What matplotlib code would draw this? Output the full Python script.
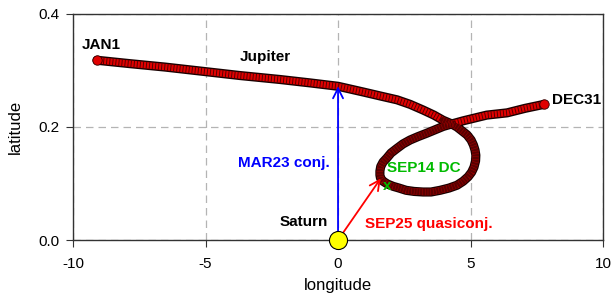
import matplotlib.pyplot as plt
import matplotlib.patheffects as pe

# Jupiter position relative to Saturn (deg)
lon = [-9.09, -7.85, -6.53, -5.02, -3.70, -2.19, -1.06, 0.00, 0.94, 1.58,
       2.23, 2.72, 3.21, 3.62, 3.96, 4.26, 4.49, 4.68, 4.87, 5.02,
       5.11, 5.17, 5.20, 5.19, 5.13, 5.04, 4.91, 4.72, 4.49, 4.19,
       3.85, 3.51, 3.21, 2.87, 2.57, 2.30, 2.08, 1.87, 1.70, 1.60,
       1.58, 1.58, 1.61, 1.70, 1.84, 2.00, 2.22, 2.45, 2.72, 3.02,
       3.35, 3.66, 3.97, 4.34, 4.73, 5.17, 5.61, 6.38, 7.06, 7.77]
lat = [0.318, 0.312, 0.306, 0.298, 0.291, 0.284, 0.278, 0.272, 0.262, 0.255,
       0.248, 0.240, 0.230, 0.221, 0.212, 0.206, 0.200, 0.193, 0.186, 0.177,
       0.168, 0.159, 0.150, 0.140, 0.129, 0.120, 0.112, 0.104, 0.097, 0.092,
       0.088, 0.085, 0.085, 0.086, 0.088, 0.092, 0.095, 0.099, 0.104, 0.110,
       0.115, 0.122, 0.130, 0.138, 0.145, 0.154, 0.162, 0.170, 0.177, 0.183,
       0.189, 0.195, 0.201, 0.206, 0.211, 0.216, 0.221, 0.225, 0.233, 0.240]

conj_lat = 0.272          # MAR23 conjunction
quasi = (1.61, 0.109)     # SEP25 quasiconjunction
dc = (1.86, 0.096)        # SEP14 DC

plt.rcParams['font.family'] = ['Liberation Sans', 'DejaVu Sans']
plt.rcParams['axes.unicode_minus'] = False

fig, ax = plt.subplots(figsize=(6.11, 2.96), dpi=100)
fig.subplots_adjust(left=0.1195, right=0.987, bottom=0.189, top=0.953)

# the path as a thick red tube with dark rings
ax.plot(lon, lat, color='#e00000', lw=4.6, solid_capstyle='round',
        solid_joinstyle='round',
        path_effects=[pe.Stroke(linewidth=6.6, foreground='#1a0000'), pe.Normal()],
        zorder=3)
ax.plot(lon, lat, color='#2a0000', lw=4.6, dashes=(0.15, 0.33), alpha=0.75, zorder=4)
# loop part (slow motion, dots pile up darker)
loop = slice(14, 54)
ax.plot(lon[loop], lat[loop], color='#5a0000', lw=4.6, solid_capstyle='round',
        solid_joinstyle='round', zorder=4)
ax.plot(lon[loop], lat[loop], color='#d00000', lw=4.6, dashes=(0.08, 0.35),
        alpha=0.6, zorder=4)
ax.plot([lon[0], lon[-1]], [lat[0], lat[-1]], 'o', ms=6.8, mfc='#e00000',
        mec='#300000', mew=0.6, zorder=5)

ax.annotate('', xy=(0, conj_lat), xytext=(0, 0),
            arrowprops=dict(arrowstyle='->', color='blue', lw=1.3,
                            mutation_scale=18, shrinkA=0, shrinkB=0), zorder=6)
ax.annotate('', xy=quasi, xytext=(0, 0),
            arrowprops=dict(arrowstyle='->', color='red', lw=1.3,
                            mutation_scale=18, shrinkA=0, shrinkB=0), zorder=6)
ax.plot(0, 0, 'o', ms=13, mfc='yellow', mec='black', mew=0.8, clip_on=False, zorder=7)

bold = dict(fontsize=11, fontweight='bold')
ax.text(-9.66, 0.345, 'JAN1', va='center', **bold)
ax.text(-2.75, 0.324, 'Jupiter', ha='center', va='center', **bold)
ax.text(8.08, 0.248, 'DEC31', va='center', **bold)
ax.text(-3.77, 0.136, 'MAR23 conj.', color='blue', va='center', **bold)
ax.text(1.85, 0.127, 'SEP14 DC', color='#00bb00', va='center', zorder=8, **bold)
ax.text(dc[0], dc[1], 'x', color='#00bb00', ha='center', va='center', zorder=8, **bold)
ax.text(-0.38, 0.032, 'Saturn', ha='right', va='center', **bold)
ax.text(1.02, 0.028, 'SEP25 quasiconj.', color='red', va='center', **bold)

ax.set_xlim(-10, 10)
ax.set_ylim(0, 0.4)
ax.set_xticks([-10, -5, 0, 5, 10])
ax.set_yticks([0.0, 0.2, 0.4])
ax.set_yticklabels(['0.0', '0.2', '0.4'])
ax.grid(True, color='#b4b4b4', ls=(0, (6, 4)), lw=0.9)
ax.set_axisbelow(True)
for s in ax.spines.values():
    s.set_color('#333333')
    s.set_linewidth(1.0)
ax.tick_params(direction='out', length=5, labelsize=11, color='#333333', pad=5)
ax.tick_params(axis='x', pad=7)
ax.set_xlabel('longitude', fontsize=12, labelpad=5)
ax.set_ylabel('latitude', fontsize=12, labelpad=11)

fig.savefig('out.png', dpi=100)
